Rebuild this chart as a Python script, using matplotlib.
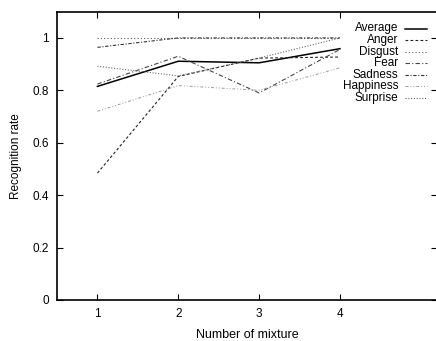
import matplotlib
matplotlib.use('Agg')
import matplotlib.pyplot as plt

plt.rcParams['font.family'] = ['Liberation Sans', 'DejaVu Sans']

mixtures = [1, 2, 3, 4]
average = [0.815, 0.911, 0.905, 0.959]
anger = [0.484, 0.853, 0.923, 0.927]
disgust = [1.0, 1.0, 1.0, 1.0]
fear = [0.824, 0.930, 0.790, 0.956]
sadness = [0.964, 1.0, 1.0, 1.0]
happiness = [0.720, 0.818, 0.800, 0.886]
surprise = [0.892, 0.855, 0.923, 1.0]

series = [
    ('Average', average, '-', '#000000', 1.1),
    ('Anger', anger, (0, (2.5, 2)), '#222222', 0.8),
    ('Disgust', disgust, (0, (1, 2)), '#555555', 0.8),
    ('Fear', fear, (0, (4, 2, 1, 2)), '#444444', 0.8),
    ('Sadness', sadness, (0, (3, 1.5, 1, 1.5)), '#333333', 0.8),
    ('Happiness', happiness, (0, (3, 2, 1, 2, 1, 2)), '#999999', 0.7),
    ('Surprise', surprise, (0, (1, 1.5)), '#666666', 0.8),
]

fig = plt.figure(figsize=(4.36, 3.41), dpi=100)
ax = fig.add_axes([57/436, 1 - 300/341, 380/436, 288.3/341])

for name, vals, ls, col, lw in series:
    ax.plot(mixtures, vals, linestyle=ls, color=col, linewidth=lw)

# gnuplot-like key: text right aligned, sample to the right
ypos = 1 - (28.5 - 11.7) / 288.3
for name, vals, ls, col, lw in series:
    ax.text((398-57)/380, ypos, name, transform=ax.transAxes,
            ha='right', va='center', fontsize=8.5)
    ax.plot([(405-57)/380, (427-57)/380], [ypos, ypos], transform=ax.transAxes,
            linestyle=ls, color=col, linewidth=lw)
    ypos -= 11.5 / 288.3

ax.set_xlim(0.5, 5.2)
ax.set_ylim(0, 1.1)
ax.set_xticks(mixtures)
ax.set_yticks([0, 0.2, 0.4, 0.6, 0.8, 1])
ax.set_yticklabels(['0', '0.2', '0.4', '0.6', '0.8', '1'])
ax.tick_params(direction='in', top=True, right=True, length=4, width=0.8,
               labelsize=8.5, pad=6)
for s in ax.spines.values():
    s.set_linewidth(1.2)

ax.set_xlabel('Number of mixture', fontsize=9, labelpad=6)
ax.set_ylabel('Recognition rate', fontsize=8.5, labelpad=7)

fig.savefig('out.png', dpi=100)
